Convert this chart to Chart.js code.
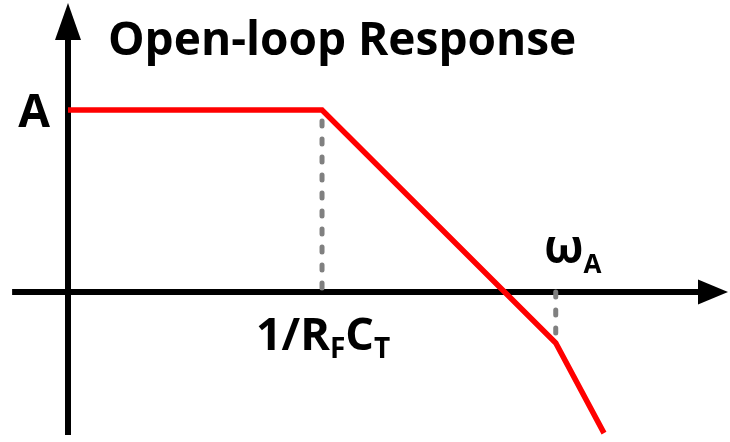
<!DOCTYPE html>
<html>
<head>
<meta charset="utf-8">
<script src="https://cdn.jsdelivr.net/npm/chart.js@4"></script>
<style>
  html, body { margin: 0; padding: 0; background: #fff; }
  canvas { display: block; }
</style>
</head>
<body>
<canvas id="bodeChart" width="730" height="442"></canvas>
<script>
// schematic open-loop gain: x = log frequency (knee at 1), y = gain (A = 1)
var freq = [0, 1, 1.92, 2.11];
var gain = [1, 1, -0.28, -0.775];

// dashed guides dropped from each corner to the frequency axis
var guideFreq = [1, 1.92];
var guideTop = [0.94, 0];
var guideBottom = [0, -0.28];

var titleText = 'Open-loop Response';
var gainLabel = 'A';
var cornerLabel = [['1/R', false], ['F', true], ['C', false], ['T', true]];
var crossLabel = [['\u03c9', false], ['A', true]];

var FONT = '"Open Sans", "DejaVu Sans", sans-serif';

function pts(xs, ys) {
  return xs.map(function (x, i) { return { x: x, y: ys[i] }; });
}

var guideSets = guideFreq.map(function (f, i) {
  return {
    data: [{ x: f, y: guideTop[i] }, { x: f, y: guideBottom[i] }],
    borderColor: '#808080',
    borderWidth: 5,
    borderDash: [5, 13],
    borderCapStyle: 'round',
    pointRadius: 0,
    order: 2
  };
});

function drawRich(ctx, parts, cx, base, big, small, subDrop) {
  var total = 0;
  parts.forEach(function (p) {
    ctx.font = 'bold ' + (p[1] ? small : big) + 'px ' + FONT;
    total += ctx.measureText(p[0]).width;
  });
  var x = cx - total / 2;
  ctx.textAlign = 'left';
  ctx.textBaseline = 'alphabetic';
  parts.forEach(function (p) {
    ctx.font = 'bold ' + (p[1] ? small : big) + 'px ' + FONT;
    ctx.fillText(p[0], x, p[1] ? base + subDrop : base);
    x += ctx.measureText(p[0]).width;
  });
}

var axesAndText = {
  id: 'axesAndText',
  beforeDatasetsDraw: function (chart) {
    var ctx = chart.ctx, xs = chart.scales.x, ys = chart.scales.y;
    var ox = xs.getPixelForValue(0), oy = ys.getPixelForValue(0);
    ctx.save();
    ctx.strokeStyle = '#000';
    ctx.fillStyle = '#000';
    ctx.lineWidth = 6;
    // gain axis
    ctx.beginPath();
    ctx.moveTo(ox, ys.getPixelForValue(-0.786));
    ctx.lineTo(ox, 30);
    ctx.stroke();
    ctx.beginPath();
    ctx.moveTo(ox, 3);
    ctx.lineTo(ox - 13, 40);
    ctx.lineTo(ox + 13, 40);
    ctx.closePath();
    ctx.fill();
    // frequency axis
    ctx.beginPath();
    ctx.moveTo(xs.getPixelForValue(-0.22), oy);
    ctx.lineTo(705, oy);
    ctx.stroke();
    ctx.beginPath();
    ctx.moveTo(728, oy);
    ctx.lineTo(698, oy - 12.5);
    ctx.lineTo(698, oy + 12.5);
    ctx.closePath();
    ctx.fill();
    ctx.restore();
  },
  afterDatasetsDraw: function (chart) {
    var ctx = chart.ctx, xs = chart.scales.x, ys = chart.scales.y;
    ctx.save();
    ctx.fillStyle = '#000';
    ctx.textBaseline = 'alphabetic';
    // title
    ctx.font = 'bold 46px ' + FONT;
    ctx.textAlign = 'left';
    ctx.fillText(titleText, 108, 55, 477);
    // gain level
    ctx.textAlign = 'right';
    ctx.fillText(gainLabel, xs.getPixelForValue(0) - 18, ys.getPixelForValue(gain[0]) + 17);
    // corner frequencies
    drawRich(ctx, cornerLabel, xs.getPixelForValue(freq[1]) + 1, 350, 45, 28, 8);
    drawRich(ctx, crossLabel, xs.getPixelForValue(freq[2]) + 17, 263, 46, 26, 10);
    ctx.restore();
  }
};

var ctx = document.getElementById('bodeChart').getContext('2d');
var bodeChart = new Chart(ctx, {
  type: 'line',
  data: {
    datasets: [{
      data: pts(freq, gain),
      borderColor: '#ff0000',
      borderWidth: 5.5,
      borderJoinStyle: 'miter',
      pointRadius: 0,
      tension: 0,
      order: 1
    }].concat(guideSets)
  },
  options: {
    responsive: false,
    animation: false,
    layout: { padding: 0 },
    plugins: {
      legend: { display: false },
      tooltip: { enabled: false },
      title: { display: false }
    },
    scales: {
      x: { type: 'linear', display: false, min: -0.2677, max: 2.606 },
      y: { type: 'linear', display: false, min: -0.824, max: 1.604 }
    }
  },
  plugins: [axesAndText]
});
</script>
</body>
</html>
